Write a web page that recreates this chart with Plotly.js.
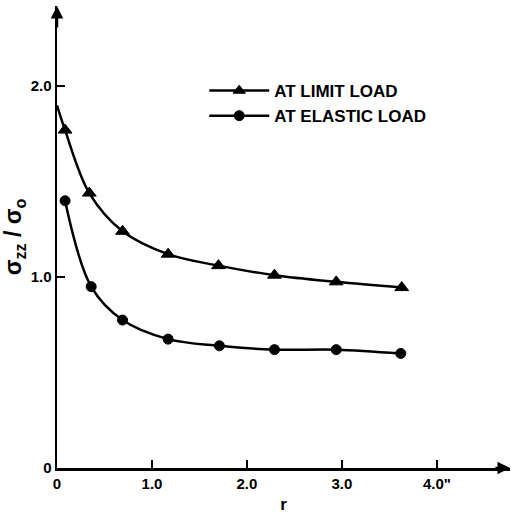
<!DOCTYPE html>
<html>
<head>
<meta charset="utf-8">
<script src="https://cdn.plot.ly/plotly-3.0.1.min.js"></script>
<style>html,body{margin:0;padding:0;background:#fff;}#chart{width:513px;height:518px;}</style>
</head>
<body>
<div id="chart"></div>
<script>
// Data
var limitR = [0, 0.085, 0.34, 0.69, 1.17, 1.70, 2.29, 2.94, 3.63];
var limitS = [1.90, 1.77, 1.44, 1.24, 1.12, 1.06, 1.01, 0.975, 0.945];
var limitMarker = [0, 12, 12, 12, 12, 12, 12, 12, 12];

var elasticR = [0.085, 0.36, 0.69, 1.17, 1.71, 2.29, 2.94, 3.62];
var elasticS = [1.40, 0.95, 0.775, 0.675, 0.64, 0.62, 0.62, 0.60];

var xTickVals = [0, 1, 2, 3, 4];
var xTickText = ['0', '1.0', '2.0', '3.0', '4.0"'];
var yTickVals = [0, 1, 2];
var yTickText = ['0', '1.0', '2.0'];

var seriesNames = ['AT LIMIT LOAD', 'AT ELASTIC LOAD'];

var font = {family: 'Liberation Sans, Arial, sans-serif', color: '#000', weight: 'bold'};

var traces = [
  {
    x: limitR, y: limitS, name: seriesNames[0], mode: 'lines+markers',
    line: {color: '#000', width: 2.5, shape: 'spline', smoothing: 1},
    marker: {symbol: 'triangle-up', size: limitMarker, opacity: 1, color: '#000', line: {color: '#000', width: 1}}
  },
  {
    x: elasticR, y: elasticS, name: seriesNames[1], mode: 'lines+markers',
    line: {color: '#000', width: 2.5, shape: 'spline', smoothing: 1},
    marker: {symbol: 'circle', size: 10, opacity: 1, color: '#000', line: {color: '#000', width: 1}}
  }
];

var layout = {
  width: 513, height: 518,
  margin: {l: 57, r: 3, t: 6, b: 50},
  paper_bgcolor: '#fff', plot_bgcolor: '#fff',
  font: font,
  showlegend: true,
  legend: {
    x: 0.325, y: 0.855, xanchor: 'left', yanchor: 'top',
    itemwidth: 60,
    font: {family: font.family, size: 17, color: '#000', weight: 'bold'},
    bgcolor: 'rgba(0,0,0,0)', tracegroupgap: 4
  },
  xaxis: {
    range: [0, 4.77], showgrid: false, zeroline: false,
    showline: true, linecolor: '#000', linewidth: 2.5,
    ticks: 'inside', ticklen: 8, tickwidth: 2.5, tickcolor: '#000',
    tickvals: xTickVals, ticktext: xTickText,
    tickfont: {family: font.family, size: 15, color: '#000', weight: 'bold'},
    title: {text: 'r', font: {family: font.family, size: 17, color: '#000', weight: 'bold'}, standoff: 8}
  },
  yaxis: {
    range: [0, 2.42], showgrid: false, zeroline: false,
    showline: true, linecolor: '#000', linewidth: 2.5,
    ticks: 'inside', ticklen: 8, tickwidth: 2.5, tickcolor: '#000',
    tickvals: yTickVals, ticktext: yTickText,
    tickfont: {family: font.family, size: 15, color: '#000', weight: 'bold'},
    title: {text: 'σ<sub>zz</sub> / σ<sub>o</sub>', font: {family: font.family, size: 23, color: '#000', weight: 'bold'}, standoff: 4}
  },
  annotations: [
    {x: 0, y: 2.42, ax: 0, ay: 2.3, xref: 'x', yref: 'y', axref: 'x', ayref: 'y',
     showarrow: true, arrowhead: 2, arrowsize: 1, arrowwidth: 2.5, arrowcolor: '#000', text: ''},
    {x: 4.77, y: 0, ax: 4.6, ay: 0, xref: 'x', yref: 'y', axref: 'x', ayref: 'y',
     showarrow: true, arrowhead: 2, arrowsize: 1, arrowwidth: 2.5, arrowcolor: '#000', text: ''}
  ]
};

Plotly.newPlot('chart', traces, layout, {displayModeBar: false, staticPlot: true});
</script>
</body>
</html>
